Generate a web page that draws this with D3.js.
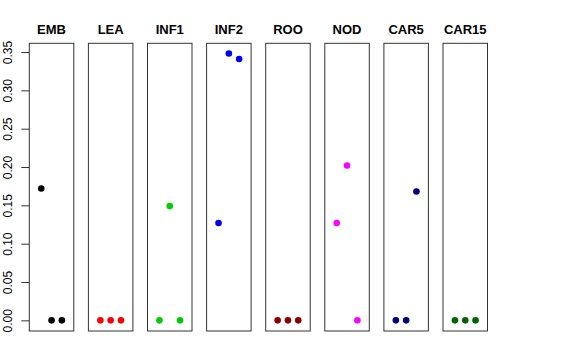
<!DOCTYPE html>
<html>
<head>
<meta charset="utf-8">
<script src="https://cdn.jsdelivr.net/npm/d3@7"></script>
<style>
  body { margin: 0; background: #fff; }
  text { font-family: "Liberation Sans", Arial, sans-serif; }
</style>
</head>
<body>
<svg id="chart"></svg>
<script>
// tissues, one panel each
const tissues = ['EMB', 'LEA', 'INF1', 'INF2', 'ROO', 'NOD', 'CAR5', 'CAR15'];
const colors = ['#000000', '#ff0000', '#00cd00', '#0000ff', '#8b0000', '#ff00ff', '#000080', '#006400'];
// three replicate values per tissue
const values = [
    [0.172, 0, 0],
    [0, 0, 0],
    [0, 0.149, 0],
    [0.127, 0.348, 0.341],
    [0, 0, 0],
    [0.127, 0.202, 0],
    [0, 0, 0.168],
    [0, 0, 0]
];
const yTicks = [0, 0.05, 0.10, 0.15, 0.20, 0.25, 0.30, 0.35];

const width = 576, height = 360;
const svg = d3.select('#chart')
    .attr('width', width)
    .attr('height', height);

// panel positions
const panelScale = d3.scaleBand()
    .domain(tissues)
    .range([29.3, 487.5])
    .paddingInner(0.247)
    .paddingOuter(0);

// shared y scale (R style 4% extension)
const yScale = d3.scaleLinear()
    .domain([-0.0139, 0.3614])
    .range([331, 43.3]);

// x position of replicate inside a panel
const xScale = d3.scaleLinear()
    .domain([-0.16, 4.16])
    .range([0, panelScale.bandwidth()]);

// y axis on the first panel only
const yAxis = d3.axisLeft(yScale)
    .tickValues(yTicks)
    .tickFormat(d3.format('.2f'))
    .tickSize(8)
    .tickPadding(0);

const yAxisG = svg.append('g')
    .attr('transform', `translate(${panelScale(tissues[0])},0)`)
    .call(yAxis);
yAxisG.select('.domain').remove();
yAxisG.selectAll('.tick line').attr('stroke', '#333');
yAxisG.selectAll('.tick text')
    .attr('font-size', 12)
    .attr('font-family', '"Liberation Sans", Arial, sans-serif')
    .attr('fill', '#000')
    .attr('transform', 'rotate(-90)')
    .attr('x', 0)
    .attr('y', -17)
    .attr('dy', 0)
    .attr('text-anchor', 'middle');

tissues.forEach((t, i) => {
    const g = svg.append('g')
        .attr('transform', `translate(${panelScale(t)},0)`);

    g.append('rect')
        .attr('x', 0)
        .attr('y', yScale.range()[1])
        .attr('width', panelScale.bandwidth())
        .attr('height', yScale.range()[0] - yScale.range()[1])
        .attr('fill', 'none')
        .attr('stroke', '#333')
        .attr('stroke-width', 1);

    g.selectAll('circle')
        .data(values[i])
        .join('circle')
        .attr('cx', (d, j) => xScale(j + 1))
        .attr('cy', d => yScale(d))
        .attr('r', 3.3)
        .attr('fill', colors[i]);

    g.append('text')
        .attr('x', panelScale.bandwidth() / 2)
        .attr('y', 34)
        .attr('text-anchor', 'middle')
        .attr('font-weight', 'bold')
        .attr('font-size', 13)
        .text(t);
});
</script>
</body>
</html>
